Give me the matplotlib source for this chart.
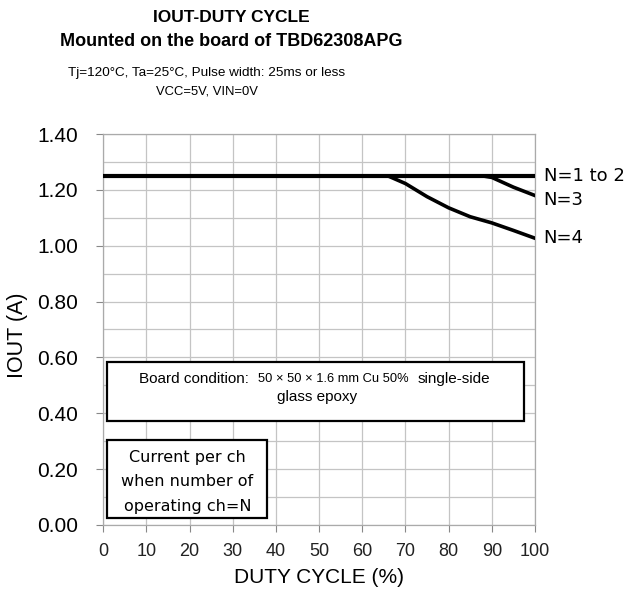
import numpy as np
import matplotlib
matplotlib.use("Agg")
import matplotlib.pyplot as plt

# dados
duty_n12 = [0, 100]
iout_n12 = [1.25, 1.25]

duty_n3 = [0, 88, 90, 95, 100]
iout_n3 = [1.25, 1.25, 1.245, 1.21, 1.18]

duty_n4 = [0, 66, 70, 75, 80, 85, 90, 95, 100]
iout_n4 = [1.25, 1.25, 1.223, 1.176, 1.136, 1.104, 1.082, 1.055, 1.027]

xticks = np.arange(0, 101, 10)
yticks = np.arange(0, 1.41, 0.2)

fig = plt.figure(figsize=(6.25, 5.91), dpi=100)
ax = fig.add_axes([0.165, 0.112, 0.691, 0.661])

ax.set_xlim(0, 100)
ax.set_ylim(0, 1.4)
ax.set_xticks(xticks)
ax.set_yticks(yticks)
ax.set_yticks(np.arange(0, 1.41, 0.1), minor=True)
ax.set_xticklabels([str(v) for v in xticks], family='Liberation Sans', fontsize=13, color='#222222')
ax.set_yticklabels(['%.2f' % v for v in yticks], family='Liberation Sans', fontsize=15)
ax.tick_params(axis='y', which='minor', length=0)
ax.tick_params(axis='both', which='major', length=5, color='#888888', width=0.8)
ax.tick_params(axis='y', which='major', pad=13)
ax.tick_params(axis='x', which='major', pad=8)
ax.grid(True, which='both', color='#c4c4c4', linewidth=0.9)
ax.set_axisbelow(True)
for s in ax.spines.values():
    s.set_color('#aaaaaa')
    s.set_linewidth(0.9)

ax.plot(duty_n12, iout_n12, color='black', linewidth=3.0, solid_capstyle='butt', zorder=5)
ax.plot(duty_n3, iout_n3, color='black', linewidth=2.6, zorder=4)
ax.plot(duty_n4, iout_n4, color='black', linewidth=2.6, zorder=4)

ax.text(102, 1.25, 'N=1 to 2', fontsize=13, family='DejaVu Sans', va='center', clip_on=False)
ax.text(102, 1.164, 'N=3', fontsize=13, family='DejaVu Sans', va='center', clip_on=False)
ax.text(102, 1.028, 'N=4', fontsize=13, family='DejaVu Sans', va='center', clip_on=False)

# caixas de texto
ax.add_patch(plt.Rectangle((1, 0.372), 96.5, 0.212, facecolor='white', edgecolor='black', linewidth=1.6, zorder=6))
ax.text(8.3, 0.523, 'Board condition:', fontsize=11, family='Liberation Sans', ha='left', va='center', zorder=7)
ax.text(35.9, 0.523, '50 × 50 × 1.6 mm Cu 50%', fontsize=9.3, family='Liberation Sans', ha='left', va='center', zorder=7)
ax.text(72.7, 0.523, 'single-side', fontsize=11, family='Liberation Sans', ha='left', va='center', zorder=7)
ax.text(49.5, 0.457, 'glass epoxy', fontsize=11, family='Liberation Sans', ha='center', va='center', zorder=7)

ax.add_patch(plt.Rectangle((1, 0.025), 37, 0.279, facecolor='white', edgecolor='black', linewidth=1.6, zorder=6))
for yy, line in zip([0.243, 0.154, 0.065], ['Current per ch', 'when number of', 'operating ch=N']):
    ax.text(19.5, yy, line, fontsize=11.5, family='DejaVu Sans', ha='center', va='center', zorder=7)

ax.set_xlabel('DUTY CYCLE (%)', family='Liberation Sans', fontsize=15, labelpad=6)
ax.set_ylabel('IOUT (A)', family='Liberation Sans', fontsize=15.5)
ax.yaxis.set_label_coords(-0.174, 0.486)

fig.text(0.37, 0.971, 'IOUT-DUTY CYCLE', ha='center', va='center', fontsize=12.5,
         family='Liberation Sans', weight='bold')
fig.text(0.37, 0.930, 'Mounted on the board of TBD62308APG', ha='center', va='center', fontsize=13,
         family='Liberation Sans', weight='bold')
fig.text(0.331, 0.876, 'Tj=120°C, Ta=25°C, Pulse width: 25ms or less', ha='center', va='center',
         fontsize=9.7, family='Liberation Sans')
fig.text(0.331, 0.846, 'VCC=5V, VIN=0V', ha='center', va='center', fontsize=9.4, family='Liberation Sans')

fig.savefig('out.png', dpi=100)
